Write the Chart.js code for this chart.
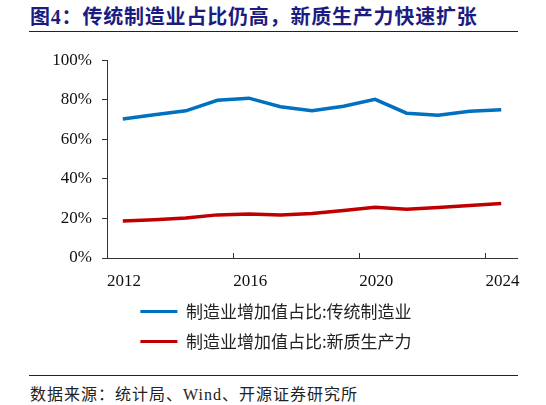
<!DOCTYPE html>
<html>
<head>
<meta charset="utf-8">
<script src="https://cdn.jsdelivr.net/npm/chart.js@4.4.1/dist/chart.umd.min.js"></script>
<style>
  body { margin: 0; background: #fff; }
  #wrap { position: relative; width: 546px; height: 405px; overflow: hidden; background: #fff; }
  #title { position: absolute; left: 30px; top: 1px; line-height: 24px; font: bold 20px "Liberation Serif", "Noto Sans CJK SC"; letter-spacing: 0.8px; color: #1c1c80; white-space: nowrap; }
  .rule { position: absolute; left: 29px; width: 489px; height: 1px; background: #222; }
  #src { position: absolute; left: 30px; top: 381px; line-height: 20px; font: 16px "Liberation Serif", "Noto Sans CJK SC"; letter-spacing: 1px; color: #222; white-space: nowrap; }
  #box { position: absolute; left: 0; top: 40px; width: 546px; height: 320px; }
</style>
</head>
<body>
<div id="wrap">
  <div id="title">图4：传统制造业占比仍高，新质生产力快速扩张</div>
  <div class="rule" style="top:31px"></div>
  <div id="box"><canvas id="lineChart"></canvas></div>
  <div class="rule" style="top:375px"></div>
  <div id="src">数据来源：统计局、Wind、开源证券研究所</div>
</div>
<script>
// --- Data ---
const years = [2012, 2013, 2014, 2015, 2016, 2017, 2018, 2019, 2020, 2021, 2022, 2023, 2024];
const traditional = [70.3, 72.4, 74.4, 79.7, 80.8, 76.5, 74.4, 76.7, 80.2, 73.2, 72.2, 74.2, 75.0];
const newQuality = [18.7, 19.3, 20.2, 21.8, 22.2, 21.8, 22.5, 24.0, 25.6, 24.6, 25.5, 26.6, 27.5];
const seriesNames = ['制造业增加值占比:传统制造业', '制造业增加值占比:新质生产力'];
const xTicks = [2012, 2016, 2020, 2024];
const yTicks = [0, 20, 40, 60, 80, 100];

// yearly values are plotted mid-year on the date axis
const toPoints = vals => vals.map((v, i) => ({ x: years[i] + 0.5, y: v }));

const axisColor = '#333';
const serif = '"Liberation Serif", "Times New Roman", serif';

// legend sits a bit right of the plot centre in the original
const legendShift = {
    id: 'legendShift',
    afterLayout(chart) {
        chart.legend.left += 35;
    }
};

const ctx = document.getElementById('lineChart').getContext('2d');
const chart = new Chart(ctx, {
    type: 'line',
    data: {
        datasets: [{
            label: seriesNames[0],
            data: toPoints(traditional),
            borderColor: '#0070c0',
            backgroundColor: '#0070c0',
            borderWidth: 3.5,
            tension: 0,
            pointRadius: 0
        }, {
            label: seriesNames[1],
            data: toPoints(newQuality),
            borderColor: '#c00000',
            backgroundColor: '#c00000',
            borderWidth: 3.5,
            tension: 0,
            pointRadius: 0
        }]
    },
    plugins: [legendShift],
    options: {
        responsive: true,
        maintainAspectRatio: false,
        animation: false,
        layout: { padding: { left: 0, right: 29, top: 15, bottom: 0 } },
        plugins: {
            tooltip: { enabled: false },
            legend: {
                position: 'bottom',
                labels: {
                    boxWidth: 37,
                    boxHeight: 3,
                    padding: 13,
                    color: '#222',
                    font: { family: '"Noto Sans CJK SC", sans-serif', size: 17 },
                    generateLabels: c => Chart.defaults.plugins.legend.labels.generateLabels(c)
                        .map(l => Object.assign(l, { lineWidth: 0 }))
                }
            }
        },
        scales: {
            x: {
                type: 'linear',
                min: xTicks[0],
                max: xTicks[xTicks.length - 1] + 1,
                afterFit: s => { s.height = 32; },
                afterBuildTicks: s => { s.ticks = xTicks.map(v => ({ value: v })); },
                border: { color: axisColor, width: 1 },
                grid: { drawOnChartArea: false, tickLength: -5, color: axisColor },
                ticks: {
                    align: 'start',
                    padding: 18,
                    color: '#111',
                    font: { family: serif, size: 17 },
                    callback: v => String(v)
                }
            },
            y: {
                min: 0,
                max: 100,
                afterFit: s => { s.width = 107; },
                afterBuildTicks: s => { s.ticks = yTicks.map(v => ({ value: v })); },
                border: { color: axisColor, width: 1 },
                grid: { drawOnChartArea: false, tickLength: 5, color: axisColor },
                ticks: {
                    padding: 10,
                    color: '#111',
                    font: { family: serif, size: 17 },
                    callback: v => v + '%'
                }
            }
        }
    }
});
</script>
</body>
</html>
